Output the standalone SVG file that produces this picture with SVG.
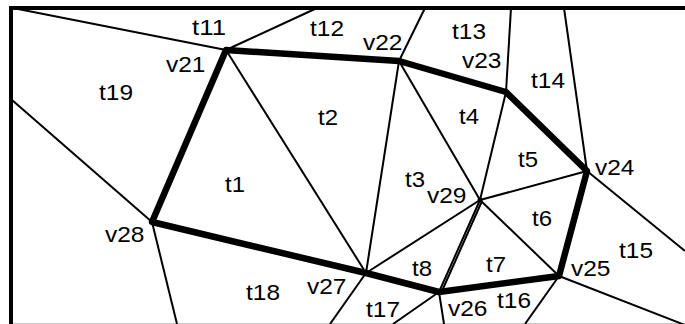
<svg xmlns="http://www.w3.org/2000/svg" width="685" height="324" viewBox="0 0 685 324">
<style>
.thin{stroke:#000;stroke-width:2;fill:none}
.thick{stroke:#000;stroke-width:6.5;fill:none;stroke-linejoin:round;stroke-linecap:round}
.frame{stroke:#000;stroke-width:4;fill:none}
text{font-family:"Liberation Sans",Arial,sans-serif;font-size:22px;fill:#000}
</style>
<rect width="685" height="324" fill="#fff"/>
<g id="frame">
<line class="frame" x1="11" y1="6" x2="11" y2="324"/>
<line class="frame" x1="9" y1="8" x2="685" y2="8"/>
<line x1="13" y1="323.5" x2="685" y2="323.5" stroke="#c8c8c8" stroke-width="1"/>
</g>
<g id="connectors">
<line class="thin" x1="13" y1="8" x2="226" y2="50"/>
<line class="thin" x1="226" y1="50" x2="317" y2="8"/>
<line class="thin" x1="399" y1="61" x2="425" y2="8"/>
<line class="thin" x1="506" y1="92" x2="511" y2="8"/>
<line class="thin" x1="587" y1="171" x2="564" y2="8"/>
<line class="thin" x1="12" y1="100" x2="152" y2="222"/>
<line class="thin" x1="152" y1="222" x2="177" y2="324"/>
<line class="thin" x1="226" y1="50" x2="366" y2="273"/>
<line class="thin" x1="399" y1="61" x2="366" y2="273"/>
<line class="thin" x1="399" y1="61" x2="480" y2="200"/>
<line class="thin" x1="506" y1="92" x2="480" y2="200"/>
<line class="thin" x1="587" y1="171" x2="480" y2="200"/>
<line class="thin" x1="587" y1="171" x2="685" y2="251"/>
<line class="thin" x1="480" y1="200" x2="559" y2="276"/>
<line class="thin" x1="480" y1="200" x2="439" y2="292"/>
<line class="thin" x1="482" y1="201" x2="442" y2="291"/>
<line class="thin" x1="480" y1="200" x2="366" y2="273"/>
<line class="thin" x1="366" y1="273" x2="330" y2="324"/>
<line class="thin" x1="439" y1="292" x2="393" y2="324"/>
<line class="thin" x1="439" y1="292" x2="444" y2="324"/>
<line class="thin" x1="559" y1="276" x2="525" y2="324"/>
<line class="thin" x1="559" y1="276" x2="685" y2="325"/>
<circle cx="480" cy="200" r="2.5" fill="#000"/>
<polygon class="thick" points="226,50 399,61 506,92 587,171 559,276 439,292 366,273 152,222"/>
</g>
<g id="v21"><text x="166" y="72" textLength="39.5" lengthAdjust="spacingAndGlyphs">v21</text></g>
<g id="v22"><text x="363" y="50" textLength="39.5" lengthAdjust="spacingAndGlyphs">v22</text></g>
<g id="v23"><text x="462" y="68" textLength="39.5" lengthAdjust="spacingAndGlyphs">v23</text></g>
<g id="v24"><text x="595" y="175" textLength="39.5" lengthAdjust="spacingAndGlyphs">v24</text></g>
<g id="v25"><text x="571" y="276" textLength="39.5" lengthAdjust="spacingAndGlyphs">v25</text></g>
<g id="v26"><text x="448" y="316" textLength="39.5" lengthAdjust="spacingAndGlyphs">v26</text></g>
<g id="v27"><text x="307" y="294" textLength="39.5" lengthAdjust="spacingAndGlyphs">v27</text></g>
<g id="v28"><text x="105" y="242" textLength="39.5" lengthAdjust="spacingAndGlyphs">v28</text></g>
<g id="v29"><text x="427" y="203" textLength="39.5" lengthAdjust="spacingAndGlyphs">v29</text></g>
<g id="t1"><text x="225" y="192" textLength="20" lengthAdjust="spacingAndGlyphs">t1</text></g>
<g id="t2"><text x="318" y="125" textLength="20" lengthAdjust="spacingAndGlyphs">t2</text></g>
<g id="t3"><text x="405" y="187" textLength="20" lengthAdjust="spacingAndGlyphs">t3</text></g>
<g id="t4"><text x="459" y="124" textLength="20" lengthAdjust="spacingAndGlyphs">t4</text></g>
<g id="t5"><text x="518" y="167" textLength="20" lengthAdjust="spacingAndGlyphs">t5</text></g>
<g id="t6"><text x="532" y="226" textLength="20" lengthAdjust="spacingAndGlyphs">t6</text></g>
<g id="t7"><text x="486" y="272" textLength="20" lengthAdjust="spacingAndGlyphs">t7</text></g>
<g id="t8"><text x="412" y="276" textLength="20" lengthAdjust="spacingAndGlyphs">t8</text></g>
<g id="t11"><text x="192" y="35" textLength="34" lengthAdjust="spacingAndGlyphs">t11</text></g>
<g id="t12"><text x="310" y="36" textLength="34" lengthAdjust="spacingAndGlyphs">t12</text></g>
<g id="t13"><text x="452" y="39" textLength="34" lengthAdjust="spacingAndGlyphs">t13</text></g>
<g id="t14"><text x="531" y="88" textLength="34" lengthAdjust="spacingAndGlyphs">t14</text></g>
<g id="t15"><text x="619" y="258" textLength="34" lengthAdjust="spacingAndGlyphs">t15</text></g>
<g id="t16"><text x="497" y="308" textLength="34" lengthAdjust="spacingAndGlyphs">t16</text></g>
<g id="t17"><text x="366" y="317" textLength="34" lengthAdjust="spacingAndGlyphs">t17</text></g>
<g id="t18"><text x="246" y="300" textLength="34" lengthAdjust="spacingAndGlyphs">t18</text></g>
<g id="t19"><text x="99" y="100" textLength="34" lengthAdjust="spacingAndGlyphs">t19</text></g>
</svg>
